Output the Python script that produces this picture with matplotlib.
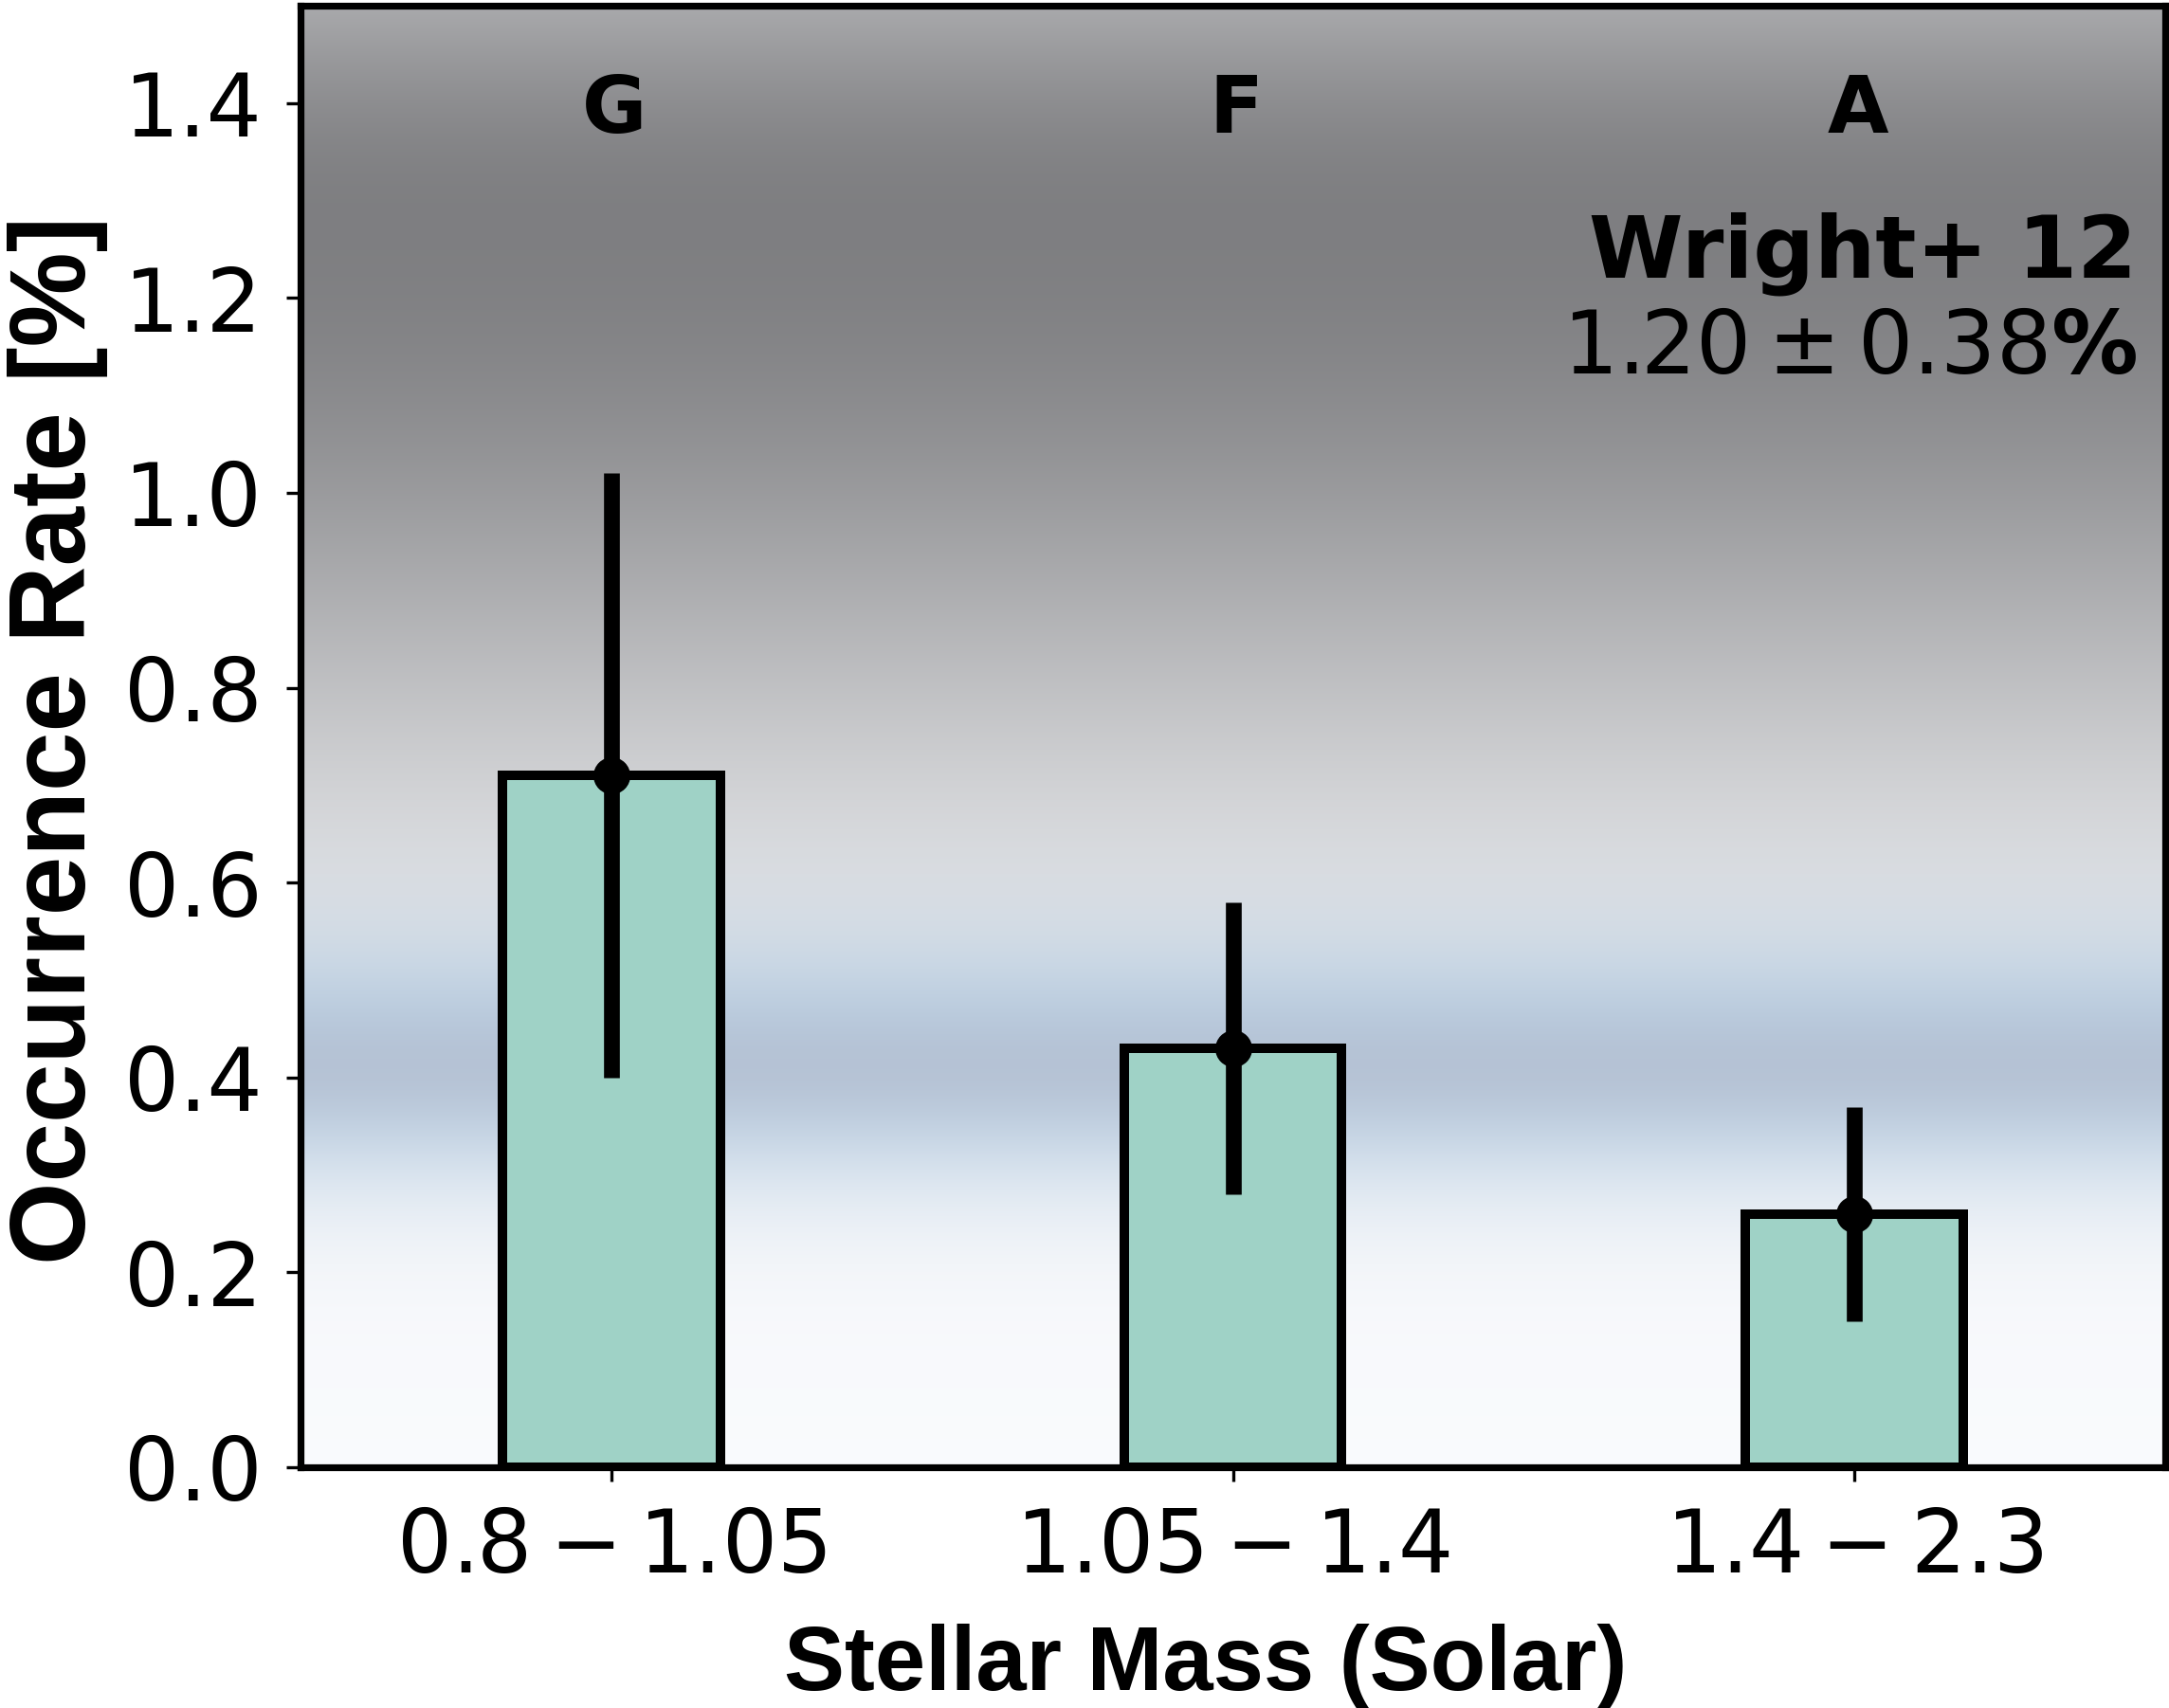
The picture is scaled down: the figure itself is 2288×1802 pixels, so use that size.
import numpy as np
import matplotlib
matplotlib.use("Agg")
import matplotlib.pyplot as plt

# ---- data ----
categories = ["0.8 – 1.05", "1.05 – 1.4", "1.4 – 2.3"]
tick_labels = [r"$0.8-1.05$", r"$1.05-1.4$", r"$1.4-2.3$"]
spectral_types = ["G", "F", "A"]
occurrence = [0.71, 0.43, 0.26]
err_low = [0.31, 0.15, 0.11]
err_high = [0.31, 0.15, 0.11]
ref_label = "Wright+ 12"
ref_value = 1.20
ref_err = 0.38

# ---- figure ----
W, H, DPI = 2288, 1802, 200
fig = plt.figure(figsize=(W / DPI, H / DPI), dpi=DPI)
ax = fig.add_axes([317 / W, 1 - 1548 / H, (2284 - 317) / W, (1548 - 6) / H])

ylim = (0, 1.5)
xlim = (-0.5, 2.5)

# background gradient (gray halo + blue band)
yy = np.linspace(ylim[0], ylim[1], 900)
base = np.ones((yy.size, 3)) * np.array([0.980, 0.985, 0.995])
g_center = 1.28
sig = np.where(yy > g_center, 0.24, 0.39)
a_g = 0.88 * np.exp(-0.5 * ((yy - g_center) / sig) ** 2)
gray = np.array([0.43, 0.43, 0.44])
col = base * (1 - a_g[:, None]) + gray[None, :] * a_g[:, None]
a_b = 0.78 * np.exp(-0.5 * ((yy - 0.42) / 0.095) ** 2)
blue = np.array([0.66, 0.77, 0.87])
col = col * (1 - a_b[:, None]) + blue[None, :] * a_b[:, None]
a_p = 0.45 * np.exp(-0.5 * ((yy - 0.41) / 0.045) ** 2)
core = np.array([0.70, 0.71, 0.77])
col = col * (1 - a_p[:, None]) + core[None, :] * a_p[:, None]
img = np.repeat(col[:, None, :], 4, axis=1)
ax.imshow(img, extent=[xlim[0], xlim[1], ylim[0], ylim[1]], origin="lower",
          aspect="auto", zorder=0, interpolation="bilinear")

x = np.arange(len(categories))
ax.bar(x, occurrence, width=0.35, color="#9fd2c6", edgecolor="black",
       linewidth=3.6, zorder=2)
ax.errorbar(x, occurrence, yerr=[err_low, err_high], fmt="o", color="black",
            ms=13, elinewidth=6, capsize=0, zorder=3)

ax.set_xlim(*xlim)
ax.set_ylim(*ylim)
ax.set_xticks(x)
ax.set_xticklabels(tick_labels)
ax.set_yticks(np.arange(0, 1.41, 0.2))
ax.set_yticklabels([f"{v:.1f}" for v in np.arange(0, 1.41, 0.2)])
ax.tick_params(axis="both", labelsize=33, length=5.5, width=1.2, direction="out")
ax.tick_params(axis="x", pad=9)
ax.tick_params(axis="y", pad=9)
for s in ax.spines.values():
    s.set_linewidth(2.6)
    s.set_color("black")
    s.set_zorder(5)

for xi, t in zip(x, spectral_types):
    ax.text(xi + 0.005, 1.37, t, ha="center", va="baseline", fontsize=30,
            fontweight="bold", zorder=4)

ax.text(0.985, 0.8145, ref_label, transform=ax.transAxes, ha="right",
        va="baseline", fontsize=32.5, fontweight="bold", zorder=4)
ax.text(0.985, 0.7484, rf"${ref_value:.2f}\pm{ref_err:.2f}$%", transform=ax.transAxes,
        ha="right", va="baseline", fontsize=33, fontweight="bold", zorder=4)

fig.text(61 / W, 1 - 781 / H, "Occurrence Rate [%]", rotation=90, ha="center",
         va="center", fontsize=40.5, fontweight="bold", family="Liberation Sans")
fig.text(1272 / W, 1 - 1758 / H, "Stellar Mass (Solar)", ha="center",
         va="center", fontsize=34.5, fontweight="bold", family="Liberation Sans")

fig.savefig("out.png", dpi=DPI)
